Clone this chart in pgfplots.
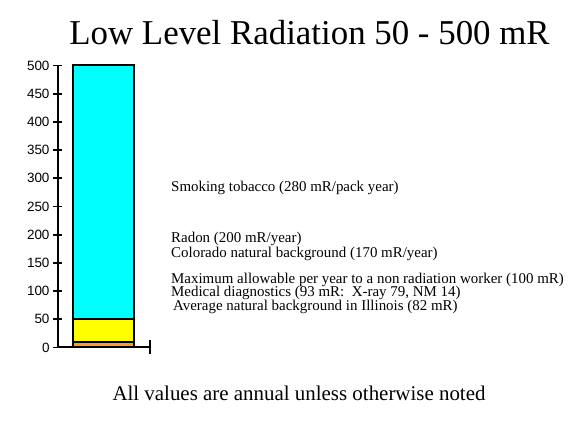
\documentclass[border=0pt]{standalone}
\usepackage{fontspec}
\setmainfont{Liberation Serif}
\setsansfont{Liberation Sans}
\usepackage{pgfplots}
\pgfplotsset{compat=1.18}
\definecolor{barorange}{HTML}{FF9933}
\definecolor{baryellow}{HTML}{FFFF00}
\definecolor{barcyan}{HTML}{00FFFF}
\begin{document}
\begin{tikzpicture}[x=1bp,y=1bp]
\path[use as bounding box] (0,0) rectangle (580,435);
\begin{axis}[
  at={(57.5bp,87.5bp)}, anchor=south west,
  scale only axis, width=92.5bp, height=282bp,
  xmin=0, xmax=1, ymin=0, ymax=500,
  axis x line=bottom, axis y line=left,
  axis line style={-, line width=2bp},
  ytick={0,50,...,500}, xtick=\empty,
  tick align=center, major tick length=9bp,
  tick style={line width=1.8bp, black},
  /pgf/number format/assume math mode=true,
  yticklabel style={font=\sffamily\fontsize{13.5}{13.5}\selectfont},
  ybar stacked, bar width=61bp,
  clip=false,
]
\addplot[fill=barorange, draw=black, line width=2bp] coordinates {(0.5,10)};
\addplot[fill=baryellow, draw=black, line width=2bp] coordinates {(0.5,40)};
\addplot[fill=barcyan, draw=black, line width=2bp] coordinates {(0.5,450)};
\draw[line width=2bp] (axis cs:1,0) ++(0,-7bp) -- ++(0,14bp);
\end{axis}
\node[font=\fontsize{35}{35}\selectfont] at (309.5,402) {Low Level Radiation 50 - 500 mR};
\node[font=\fontsize{21}{21}\selectfont] at (299,41.5) {All values are annual unless otherwise noted};
\begin{scope}[every node/.style={anchor=west, inner sep=0pt, font=\fontsize{15}{15}\selectfont}]
\node at (171,247.5) {Smoking tobacco (280 mR/pack year)};
\node at (171,196.5) {Radon (200 mR/year)};
\node at (171,181) {Colorado natural background (170 mR/year)};
\node at (171,155.5) {Maximum allowable per year to a non radiation worker (100 mR)};
\node at (171,142) {Medical diagnostics (93 mR:\ \ X-ray 79, NM 14)};
\node at (173,128) {Average natural background in Illinois (82 mR)};
\end{scope}
\end{tikzpicture}
\end{document}
